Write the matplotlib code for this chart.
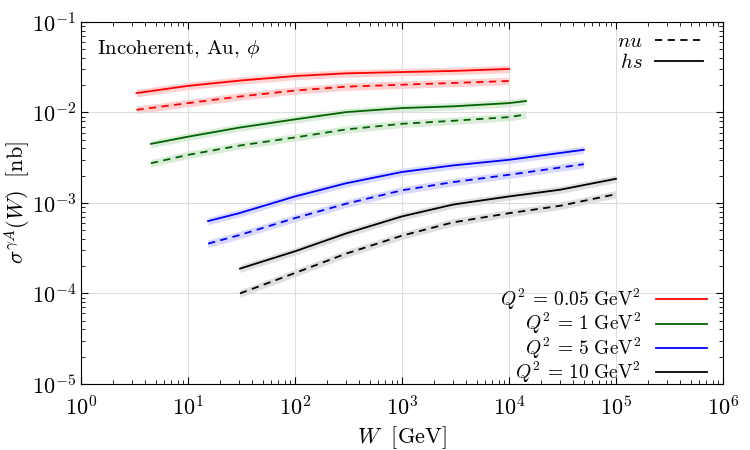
import numpy as np
import matplotlib
matplotlib.use("Agg")
import matplotlib.pyplot as plt
from matplotlib.lines import Line2D

plt.rcParams['font.family'] = 'serif'
plt.rcParams['font.serif'] = ['cmr10', 'DejaVu Serif']
plt.rcParams['mathtext.fontset'] = 'cm'
plt.rcParams['axes.unicode_minus'] = False
plt.rcParams['axes.formatter.use_mathtext'] = True

# values (W in GeV, sigma in nb)
W_005 = [3.3, 10, 30, 100, 300, 1000, 3000, 10000]
hs_005 = [0.0164, 0.0197, 0.0225, 0.0253, 0.0271, 0.0280, 0.0288, 0.0303]
nu_005 = [0.0107, 0.0127, 0.0150, 0.0175, 0.0193, 0.0203, 0.0212, 0.0223]

W_1 = [4.5, 10, 30, 100, 300, 1000, 3000, 10000, 14400]
hs_1 = [0.0045, 0.0054, 0.0068, 0.0084, 0.0101, 0.0112, 0.0117, 0.0127, 0.0134]
nu_1 = [0.00275, 0.0034, 0.0043, 0.0053, 0.0065, 0.0075, 0.0081, 0.0089, 0.0095]

W_5 = [15.4, 30, 100, 300, 1000, 3000, 10000, 50000]
hs_5 = [6.3e-4, 7.7e-4, 1.18e-3, 1.65e-3, 2.2e-3, 2.6e-3, 3.0e-3, 3.87e-3]
nu_5 = [3.55e-4, 4.4e-4, 6.8e-4, 9.8e-4, 1.38e-3, 1.7e-3, 2.05e-3, 2.68e-3]

W_10 = [30.6, 100, 300, 1000, 3000, 10000, 30000, 100000]
hs_10 = [1.88e-4, 2.92e-4, 4.6e-4, 7.1e-4, 9.6e-4, 1.18e-3, 1.4e-3, 1.85e-3]
nu_10 = [1.0e-4, 1.68e-4, 2.75e-4, 4.35e-4, 6.1e-4, 7.7e-4, 9.3e-4, 1.25e-3]

labels = [r'$Q^2\,=\,0.05\ \mathrm{GeV}^2$', r'$Q^2\,=\,1\ \mathrm{GeV}^2$',
          r'$Q^2\,=\,5\ \mathrm{GeV}^2$', r'$Q^2\,=\,10\ \mathrm{GeV}^2$']
colors = ['#ff0000', '#006400', '#0000ff', '#000000']
bands = ['#ff0000', '#2e9e2e', '#3030ff', '#505050']

xticks = [1e0, 1e1, 1e2, 1e3, 1e4, 1e5, 1e6]
yticks = [1e-5, 1e-4, 1e-3, 1e-2, 1e-1]

series = [(W_005, hs_005, nu_005), (W_1, hs_1, nu_1),
          (W_5, hs_5, nu_5), (W_10, hs_10, nu_10)]

fig = plt.figure(figsize=(7.5, 4.5), dpi=100)
ax = fig.add_axes([0.108, 0.147, 0.856, 0.804])

band = 1.1
for (W, hs, nu), c, b in zip(series, colors, bands):
    W = np.array(W)
    hs = np.array(hs)
    nu = np.array(nu)
    ax.fill_between(W, hs / band, hs * band, color=b, alpha=0.18, lw=0)
    ax.fill_between(W, nu / band, nu * band, color=b, alpha=0.18, lw=0)
    ax.plot(W, hs, color=c, lw=1.3)
    ax.plot(W, nu, color=c, lw=1.3, ls=(0, (4, 3)))

ax.set_xscale('log')
ax.set_yscale('log')
ax.set_xticks(xticks)
ax.set_yticks(yticks)
ax.set_xlim(1, 1e6)
ax.set_ylim(1e-5, 1e-1)
ax.grid(True, which='major', color='#dddddd', lw=0.8)
ax.tick_params(which='both', direction='in', top=True, right=True, labelsize=16)
ax.tick_params(which='major', length=5)
ax.tick_params(which='minor', length=3)
ax.tick_params(axis='x', pad=8)
ax.set_xlabel(r'$W\ \ [\mathrm{GeV}]$', fontsize=16, labelpad=4)
ax.set_ylabel(r'$\sigma^{\gamma A}(W)\ \ [\mathrm{nb}]$', fontsize=16, labelpad=0)

ax.text(0.025, 0.925, r'Incoherent, Au, $\phi$', transform=ax.transAxes,
        fontsize=15, va='center', ha='left')

h1 = [Line2D([], [], color='k', lw=1.3, ls=(0, (4, 3))),
      Line2D([], [], color='k', lw=1.3)]
leg1 = ax.legend(h1, [r'$nu$', r'$hs$'], loc='upper right',
                 bbox_to_anchor=(0.985, 1.0), frameon=False,
                 markerfirst=False, fontsize=15, handlelength=2.3,
                 borderaxespad=0.1, labelspacing=0.1, handletextpad=0.6)
ax.add_artist(leg1)

h2 = [Line2D([], [], color=c, lw=1.3) for c in colors]
ax.legend(h2, labels, loc='lower right', bbox_to_anchor=(0.99, -0.03),
          frameon=False, markerfirst=False,
          fontsize=14, handlelength=2.6, borderaxespad=0.1, labelspacing=-0.05,
          handletextpad=0.8)

fig.savefig('out.png', dpi=100)
